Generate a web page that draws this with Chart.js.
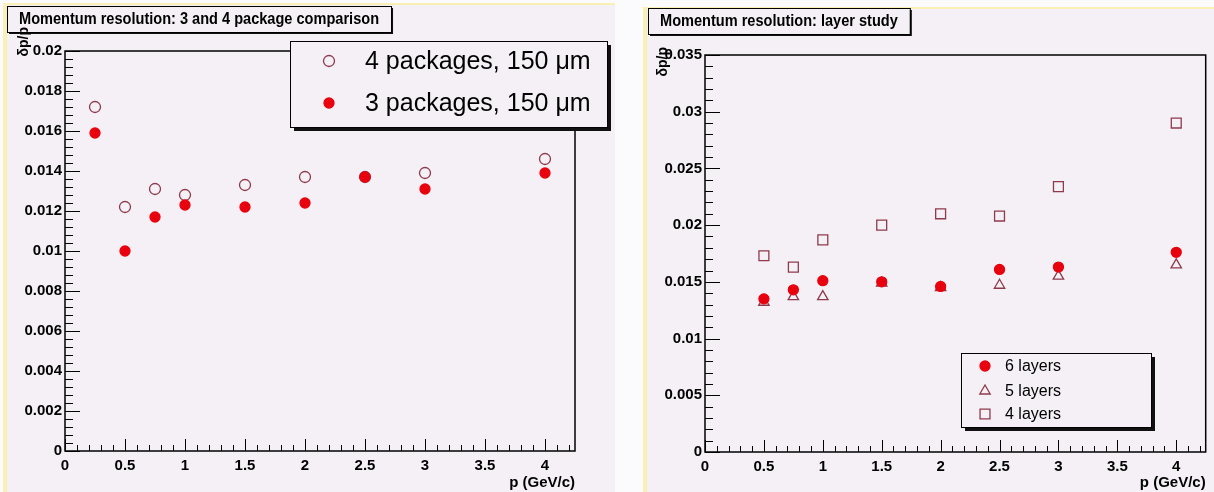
<!DOCTYPE html>
<html>
<head>
<meta charset="utf-8">
<title>Momentum resolution</title>
<script src="https://cdn.jsdelivr.net/npm/chart.js@4.4.1/dist/chart.umd.min.js"></script>
<style>
  body { margin: 0; width: 1214px; height: 492px; background: #fbfafc; position: relative; overflow: hidden; }
  .pad { position: absolute; background: #f4f0f5; border-left: 4px solid #f8f0b4; border-top: 2px solid #f8f0b4; box-sizing: border-box; }
  #padL { left: 3px; top: 3px; width: 612px; height: 489px; }
  #padR { left: 643px; top: 7px; width: 571px; height: 485px; }
  canvas { position: absolute; top: 0; }
  #chartL { left: 0; }
  #chartR { left: 640px; }
</style>
</head>
<body>
<div class="pad" id="padL"></div>
<div class="pad" id="padR"></div>
<canvas id="chartL" width="615" height="492"></canvas>
<canvas id="chartR" width="574" height="492"></canvas>
<script>
// values
const pPackages = [0.25, 0.5, 0.75, 1, 1.5, 2, 2.5, 3, 4];
const res4Packages = [0.0172, 0.0122, 0.0131, 0.0128, 0.0133, 0.0137, 0.0137, 0.0139, 0.0146];
const res3Packages = [0.0159, 0.0100, 0.0117, 0.0123, 0.0122, 0.0124, 0.0137, 0.0131, 0.0139];

const pLayers = [0.5, 0.75, 1, 1.5, 2, 2.5, 3, 4];
const res6Layers = [0.0135, 0.0143, 0.0151, 0.0150, 0.0146, 0.0161, 0.0163, 0.0176];
const res5Layers = [0.0132, 0.0137, 0.0137, 0.0149, 0.0145, 0.0147, 0.0155, 0.0165];
const res4Layers = [0.0173, 0.0163, 0.0187, 0.0200, 0.0210, 0.0208, 0.0234, 0.0290];

const xTicks = [0, 0.5, 1, 1.5, 2, 2.5, 3, 3.5, 4];
const xTickLabels = ['0', '0.5', '1', '1.5', '2', '2.5', '3', '3.5', '4'];
const yTicksL = [0, 0.002, 0.004, 0.006, 0.008, 0.01, 0.012, 0.014, 0.016, 0.018, 0.02];
const yTickLabelsL = ['0', '0.002', '0.004', '0.006', '0.008', '0.01', '0.012', '0.014', '0.016', '0.018', '0.02'];
const yTicksR = [0, 0.005, 0.01, 0.015, 0.02, 0.025, 0.03, 0.035];
const yTickLabelsR = ['0', '0.005', '0.01', '0.015', '0.02', '0.025', '0.03', '0.035'];

const RED = '#e8000e';
const MAROON = '#8e3a4c';
const PADBG = '#f4f0f5';
const FONT = '"Liberation Sans", Arial, sans-serif';

function pts(xs, ys) {
  return xs.map((x, i) => ({ x: x, y: ys[i] }));
}

function series(label, xs, ys, style, filled, r) {
  return {
    label: label,
    data: pts(xs, ys),
    showLine: false,
    pointStyle: style,
    pointRadius: r,
    pointBorderWidth: 1.3,
    pointBorderColor: filled ? RED : MAROON,
    pointBackgroundColor: filled ? RED : 'rgba(0,0,0,0)'
  };
}

function tickMarks(ctx, scale, horizontal, step, every, majorLen, minorLen, a) {
  const count = Math.floor((scale.max - scale.min) / step + 1e-6);
  for (let k = 0; k <= count; k++) {
    const px = Math.round(scale.getPixelForValue(scale.min + k * step)) + 0.5;
    const len = k % every === 0 ? majorLen : minorLen;
    if (horizontal) {
      ctx.moveTo(px, a.bottom);
      ctx.lineTo(px, a.bottom - len);
    } else {
      ctx.moveTo(a.left, px);
      ctx.lineTo(a.left + len, px);
    }
  }
}

function shadowBox(ctx, x, y, w, h, shadow) {
  ctx.fillStyle = '#111';
  ctx.fillRect(x + shadow, y + shadow, w, h);
  ctx.fillStyle = PADBG;
  ctx.fillRect(x, y, w, h);
  ctx.strokeStyle = '#000';
  ctx.lineWidth = 1;
  ctx.strokeRect(x + 0.5, y + 0.5, w, h);
}

// ROOT-like frame, inward ticks, title box, legend box, y title
const rootPad = {
  id: 'rootPad',
  beforeDatasetsDraw(chart, args, o) {
    const { ctx, chartArea: a, scales } = chart;
    ctx.save();
    ctx.strokeStyle = '#000';
    ctx.lineWidth = 1;
    ctx.beginPath();
    tickMarks(ctx, scales.x, true, 0.1, 5, 12, 6, a);
    tickMarks(ctx, scales.y, false, o.yMinor, 5, 15, 8, a);
    ctx.stroke();
    ctx.lineWidth = 1.5;
    ctx.strokeRect(a.left, a.top, a.right - a.left, a.bottom - a.top);
    ctx.restore();
  },
  afterDraw(chart, args, o) {
    const ctx = chart.ctx;
    ctx.save();

    // title (ROOT's Helvetica bold is a little narrower)
    const squeeze = 0.91;
    ctx.font = 'bold 16px ' + FONT;
    const tw = ctx.measureText(o.title).width * squeeze;
    shadowBox(ctx, o.titleX, o.titleY, tw + 24, 26, 2);
    ctx.save();
    ctx.translate(o.titleX + 12, o.titleY + 14);
    ctx.scale(squeeze, 1);
    ctx.fillStyle = '#000';
    ctx.textBaseline = 'middle';
    ctx.textAlign = 'left';
    ctx.fillText(o.title, 0, 0);
    ctx.restore();

    // y axis title
    ctx.save();
    ctx.translate(o.yTitleX, o.yTitleTop);
    ctx.rotate(-Math.PI / 2);
    ctx.font = 'bold 14px ' + FONT;
    ctx.textAlign = 'right';
    ctx.textBaseline = 'middle';
    ctx.fillStyle = '#000';
    ctx.fillText('δp/p', 0, 0);
    ctx.restore();

    // legend
    const L = o.legend;
    shadowBox(ctx, L.x, L.y, L.w, L.h, 4);
    ctx.font = L.fontSize + 'px ' + FONT;
    ctx.textAlign = 'left';
    ctx.textBaseline = 'middle';
    L.items.forEach((it, i) => {
      const ds = chart.data.datasets[it.dataset];
      const y = L.rowY[i];
      ctx.fillStyle = ds.pointBackgroundColor;
      ctx.strokeStyle = ds.pointBorderColor;
      ctx.lineWidth = ds.pointBorderWidth;
      Chart.helpers.drawPoint(ctx, { pointStyle: ds.pointStyle, radius: ds.pointRadius, borderWidth: ds.pointBorderWidth, rotation: 0 }, L.markerX, y);
      ctx.fillStyle = '#000';
      ctx.fillText(ds.label, L.textX, y + 1);
    });
    ctx.restore();
  }
};

function makeChart(id, datasets, geom, yTicks, yLabels, yMax, padOpts) {
  return new Chart(document.getElementById(id), {
    type: 'scatter',
    data: { datasets: datasets },
    plugins: [rootPad],
    options: {
      responsive: false,
      animation: false,
      devicePixelRatio: 1,
      events: [],
      layout: { padding: { top: geom.top, right: geom.right, left: 0, bottom: 0 } },
      plugins: { legend: { display: false }, tooltip: { enabled: false }, rootPad: padOpts },
      scales: {
        x: {
          type: 'linear',
          min: 0,
          max: 4.25,
          afterFit: s => { s.height = geom.xHeight; },
          afterBuildTicks: s => { s.ticks = xTicks.map(v => ({ value: v })); },
          grid: { display: false, drawTicks: false },
          border: { display: false },
          ticks: {
            padding: 6,
            color: '#000',
            font: { family: FONT, size: 15, weight: 'bold' },
            callback: (v, i) => xTickLabels[i]
          },
          title: {
            display: true,
            text: 'p (GeV/c)',
            align: 'end',
            color: '#000',
            padding: { top: 0, bottom: 0 },
            font: { family: FONT, size: 15, weight: 'bold' }
          }
        },
        y: {
          type: 'linear',
          min: 0,
          max: yMax,
          afterFit: s => { s.width = geom.yWidth; },
          afterBuildTicks: s => { s.ticks = yTicks.map(v => ({ value: v })); },
          grid: { display: false, drawTicks: false },
          border: { display: false },
          ticks: {
            padding: 3,
            color: '#000',
            font: { family: FONT, size: 15, weight: 'bold' },
            callback: (v, i) => yLabels[i]
          }
        }
      }
    }
  });
}

makeChart('chartL', [
    series('3 packages, 150 μm', pPackages, res3Packages, 'circle', true, 5),
    series('4 packages, 150 μm', pPackages, res4Packages, 'circle', false, 5.5)
  ],
  { top: 51, right: 40, xHeight: 41, yWidth: 65 },
  yTicksL, yTickLabelsL, 0.02,
  {
    yMinor: 0.0004,
    title: 'Momentum resolution: 3 and 4 package comparison',
    titleX: 7, titleY: 6,
    yTitleX: 24, yTitleTop: 27,
    legend: {
      x: 290, y: 41, w: 317, h: 86, fontSize: 25,
      markerX: 329, textX: 365, rowY: [61, 103],
      items: [{ dataset: 1 }, { dataset: 0 }]
    }
  });

makeChart('chartR', [
    series('6 layers', pLayers, res6Layers, 'circle', true, 5),
    series('5 layers', pLayers, res5Layers, 'triangle', false, 6),
    series('4 layers', pLayers, res4Layers, 'rect', false, 7)
  ],
  { top: 55, right: 1, xHeight: 40, yWidth: 65 },
  yTicksR, yTickLabelsR, 0.035,
  {
    yMinor: 0.001,
    title: 'Momentum resolution: layer study',
    titleX: 8, titleY: 8,
    yTitleX: 23, yTitleTop: 47,
    legend: {
      x: 321, y: 353, w: 190, h: 74, fontSize: 16,
      markerX: 345, textX: 365, rowY: [366, 391, 414],
      items: [{ dataset: 0 }, { dataset: 1 }, { dataset: 2 }]
    }
  });
</script>
</body>
</html>
